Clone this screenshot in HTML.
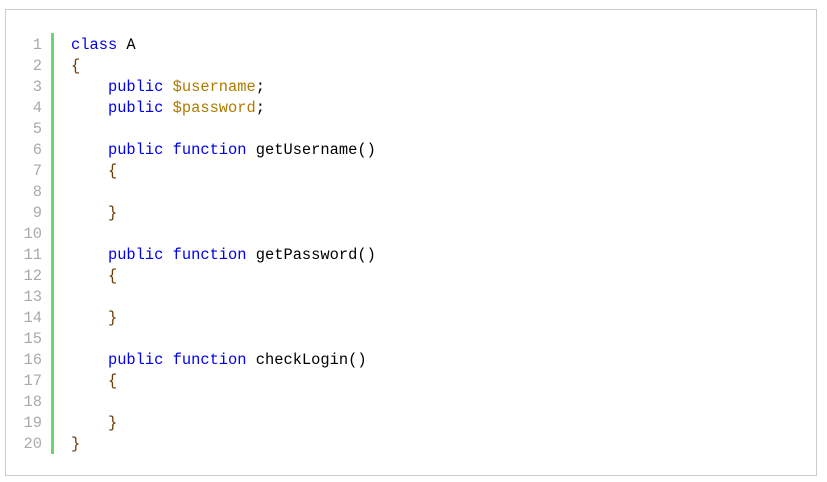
<!DOCTYPE html>
<html><head><meta charset="utf-8"><style>
html,body{margin:0;padding:0;background:#fff;width:827px;height:482px;overflow:hidden}
.box{position:absolute;left:5px;top:9px;width:812px;height:467px;border:1px solid #ccc;box-sizing:border-box}
.bar{position:absolute;left:51px;top:33px;width:3px;height:421px;background:#6fd36f}
.nums,.code{position:absolute;top:35px;font-family:"Liberation Mono",monospace;font-size:15.4px;line-height:21px;white-space:pre}
.nums{left:10px;width:32px;text-align:right;color:#aaa}
.code{left:71px;color:#000}
.k{color:#0000ee}.v{color:#b07a00}.b{color:#6b3a00}
</style></head><body>
<div class="box"></div>
<div class="bar"></div>
<div class="nums">1
2
3
4
5
6
7
8
9
10
11
12
13
14
15
16
17
18
19
20</div>
<div class="code"><span class="k">class</span> A
<span class="b">{</span>
    <span class="k">public</span> <span class="v">$username</span>;
    <span class="k">public</span> <span class="v">$password</span>;

    <span class="k">public</span> <span class="k">function</span> getUsername()
    <span class="b">{</span>

    <span class="b">}</span>

    <span class="k">public</span> <span class="k">function</span> getPassword()
    <span class="b">{</span>

    <span class="b">}</span>

    <span class="k">public</span> <span class="k">function</span> checkLogin()
    <span class="b">{</span>

    <span class="b">}</span>
<span class="b">}</span></div>
</body></html>
